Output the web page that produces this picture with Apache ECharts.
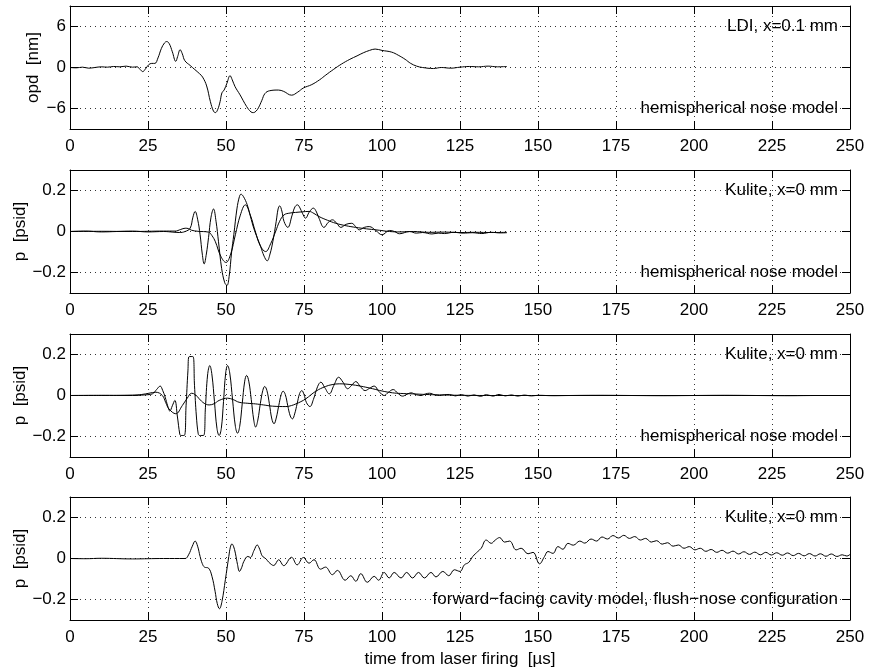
<!DOCTYPE html>
<html>
<head>
<meta charset="utf-8">
<script src="https://cdn.jsdelivr.net/npm/echarts@6/dist/echarts.min.js"></script>
<style>
html, body { margin: 0; padding: 0; background: #fff; }
#chart { width: 869px; height: 671px; }
</style>
</head>
<body>
<div id="chart"></div>
<script>
// ---- data: time [µs] vs value -------------------------------------------
const timeMin = 0, timeMax = 250, timeStep = 25;

const opdTicks = [-6, 0, 6];          // opd [nm]
const opdRange = [-9, 9];
const pTicks = [-0.2, 0, 0.2];        // p [psid]
const pRange = [-0.3, 0.3];

// LDI optical path difference, x = 0.1 mm
const ldiOpd = [[0,0.0],[2,-0.05],[4,0.05],[6,-0.1],[8,0.0],[10,0.1],[12,0.05],[14,0.15],[16,0.1],[18,0.2],[20,0.05],[21.5,0.1],[22.5,-0.3],[23.3,-0.6],[24.2,-0.2],[25.2,0.4],[26.2,0.6],[27.2,0.6],[28.2,1.4],[29.3,2.8],[30.3,3.6],[31,3.8],[31.8,3.5],[32.8,2.3],[33.9,0.9],[34.5,1.6],[35.3,2.6],[36,2.0],[36.8,1.0],[38.5,0.3],[40,-0.3],[41.5,-0.9],[42.5,-1.4],[43.8,-2.7],[45,-5.0],[46,-6.4],[46.6,-6.6],[47.3,-6.2],[48.1,-5.0],[48.7,-3.7],[49.4,-3.3],[50.3,-2.3],[51.3,-1.2],[52,-1.8],[52.9,-2.8],[54.5,-4.0],[56.6,-5.7],[58,-6.5],[58.8,-6.6],[59.6,-6.4],[60.4,-5.9],[61.5,-4.8],[62.5,-3.8],[64,-3.4],[66.8,-3.3],[68.5,-3.5],[71,-4.05],[73,-3.6],[74.8,-3.0],[77.5,-2.5],[80,-1.8],[82,-1.1],[84.4,-0.3],[87,0.5],[89.7,1.2],[92,1.7],[94,2.15],[96,2.5],[97.8,2.7],[100,2.5],[103.1,2.25],[105.2,1.8],[107.4,1.2],[109.2,0.6],[111.1,0.2],[113,0.0],[116.5,-0.15],[119,0.0],[122,-0.1],[125,0.05],[128,0.15],[131,0.1],[134,0.2],[137,0.1],[140,0.15]];

// Kulite, hemispherical nose: raw trace and its low-pass counterpart
const kuliteHemi1 = [[0,0],[5,0.002],[10,-0.002],[15,0],[20,0.002],[25,-0.002],[30,0],[33,-0.003],[35,-0.005],[36.9,0],[38.5,0.016],[39.4,0.07],[40.1,0.098],[40.9,0.06],[41.7,-0.016],[42.4,-0.11],[43.0,-0.158],[43.7,-0.11],[44.4,-0.03],[45.2,0.07],[46.0,0.11],[46.8,0.05],[47.6,-0.05],[48.6,-0.18],[49.6,-0.25],[50.3,-0.263],[51,-0.22],[51.8,-0.1],[52.5,-0.016],[53.5,0.11],[54.3,0.17],[54.8,0.182],[55.6,0.17],[56.8,0.13],[57.8,0.075],[58.9,0.016],[60,-0.03],[61.1,-0.073],[62.2,-0.12],[63.2,-0.143],[64.1,-0.11],[65.0,-0.05],[66.1,0.05],[66.7,0.11],[67.2,0.125],[67.9,0.1],[68.6,0.049],[69.8,0.02],[71.2,0.08],[72.1,0.12],[72.9,0.13],[73.7,0.115],[74.5,0.089],[75.5,0.065],[76.7,0.095],[78.0,0.114],[79,0.095],[79.8,0.065],[81.4,0.02],[82.8,0.045],[84.1,0.057],[85.5,0.04],[86.8,0.02],[88.5,0.035],[90.3,0.04],[91.5,0.025],[92.7,0.008],[94.3,0.02],[95.9,0.024],[98,0.005],[100,-0.016],[102.4,0.005],[104,0],[105.6,-0.011],[108.8,0],[111,-0.008],[113,-0.005],[116,-0.012],[118,-0.008],[120,-0.01],[123,-0.004],[126,-0.008],[129,-0.006],[132,-0.01],[135,-0.004],[138,-0.007],[140,-0.006]];
const kuliteHemi1Ref = [[0,0],[10,0.001],[20,0],[30,0.002],[33.7,0.002],[35.5,0.01],[36.9,0.016],[38,0.014],[39,0.006],[41,0.001],[44.4,-0.003],[45.5,-0.02],[46.6,-0.05],[48.3,-0.12],[50,-0.151],[51.5,-0.11],[53,-0.016],[54.6,0.08],[56.2,0.13],[57.8,0.08],[59.4,0],[61,-0.07],[62.7,-0.098],[64.3,-0.06],[65.9,0],[67.2,0.05],[68.6,0.081],[70.5,0.09],[72.3,0.093],[74.5,0.096],[76.6,0.098],[78.2,0.088],[79.8,0.073],[82.5,0.055],[85.2,0.04],[88.5,0.028],[91.6,0.02],[95,0.013],[98.1,0.008],[102.4,0],[106,-0.002],[110,0],[115,-0.004],[120,-0.003],[125,-0.005],[130,-0.004],[135,-0.005],[140,-0.004]];

const kuliteHemi2 = [[0,0],[10,0.001],[20,0],[24,0.003],[26.4,0.008],[27.8,0.03],[28.9,0.046],[29.7,0.025],[30.5,-0.008],[31.3,-0.05],[32.0,-0.076],[32.8,-0.05],[33.6,-0.024],[34.4,-0.1],[35.2,-0.19],[35.5,-0.195],[36.6,-0.195],[37.2,-0.05],[37.8,0.12],[38.2,0.19],[39.4,0.19],[39.9,0.05],[40.5,-0.1],[41.1,-0.187],[41.5,-0.195],[42.8,-0.195],[43.4,-0.06],[44.1,0.1],[44.8,0.146],[45.5,0.1],[46.3,-0.03],[47.1,-0.16],[47.8,-0.195],[48.5,-0.16],[49.2,-0.03],[49.9,0.11],[50.5,0.146],[51.2,0.11],[52.1,-0.02],[53.0,-0.15],[53.7,-0.184],[54.4,-0.15],[55.2,-0.04],[56.0,0.07],[56.6,0.098],[57.3,0.07],[58.1,-0.02],[58.9,-0.12],[59.5,-0.154],[60.2,-0.12],[61.0,-0.04],[61.8,0.025],[62.4,0.044],[63.1,0.025],[63.9,-0.04],[64.7,-0.115],[65.4,-0.138],[66.1,-0.11],[66.9,-0.05],[67.7,0.005],[68.3,0.021],[69,0.005],[69.8,-0.05],[70.6,-0.1],[71.3,-0.114],[72,-0.09],[72.8,-0.04],[73.6,0.01],[74.3,0.024],[75,0.005],[75.8,-0.035],[76.9,-0.054],[78,-0.02],[79.4,0.045],[80.4,0.065],[81.6,0.04],[83.1,0.008],[84.6,0.05],[86.1,0.089],[87.5,0.065],[89,0.033],[90.3,0.05],[91.6,0.068],[93,0.045],[94.6,0.024],[96,0.035],[97.5,0.046],[99,0.02],[100.7,0],[102,0.015],[103.6,0.029],[105,0.012],[106.6,-0.003],[108,0.006],[109.3,0.013],[111,0.004],[112.5,0],[114,0.008],[115.2,0.011],[117,0.003],[118.4,0],[120,0.004],[121.6,0.005],[123.5,-0.002],[125.5,0.004],[127.5,-0.003],[129.5,0.003],[131.5,-0.004],[133.5,0.004],[135.5,-0.003],[137.5,0.005],[139.5,-0.002],[141.5,0.003],[143.5,-0.003],[145.5,0.002],[148,-0.002],[150,0.001],[155,-0.001],[160,0],[170,0.001],[180,0],[190,-0.001],[200,0],[210,0.001],[220,0],[230,-0.001],[240,0],[250,0]];
const kuliteHemi2Ref = [[0,0],[10,0],[20,0.002],[23,0.005],[25.3,0.011],[27.5,0.016],[29.6,0],[30.7,-0.035],[31.7,-0.065],[33.9,-0.089],[36.0,-0.049],[37.5,-0.015],[39.0,0.011],[40.2,0.004],[41.4,-0.016],[43,-0.038],[44.6,-0.046],[46.2,-0.04],[47.8,-0.024],[50.5,-0.013],[52.3,-0.02],[54.2,-0.033],[57,-0.038],[59.5,-0.041],[62,-0.046],[64.9,-0.052],[69.2,-0.054],[71,-0.049],[72.4,-0.041],[74,-0.03],[75.6,-0.016],[78.8,0.021],[81.9,0.044],[84,0.053],[86.3,0.057],[90.6,0.052],[94,0.043],[97,0.033],[100,0.022],[103.4,0.013],[106,0.01],[109.8,0.008],[114,0.005],[118.4,0.003],[125,0.001],[135,0],[150,0],[175,0],[200,0],[225,0],[250,0]];

// Kulite, forward-facing cavity, flush nose
const kuliteCavity = [[0,0],[5,-0.001],[10,0.001],[20,-0.002],[30,0],[36.9,0],[38,0.018],[39.2,0.06],[40.1,0.085],[40.9,0.06],[41.7,0.01],[42.4,-0.025],[43.1,-0.042],[44.4,-0.047],[45.5,-0.087],[46.5,-0.16],[47.2,-0.22],[47.9,-0.245],[48.7,-0.21],[49.8,-0.103],[50.9,0.01],[51.4,0.055],[51.9,0.071],[52.4,0.06],[53,0.026],[53.7,-0.03],[54.3,-0.063],[55,-0.045],[55.7,-0.015],[57,0.01],[57.8,0.005],[59,0.04],[60,0.066],[60.8,0.045],[61.6,0.013],[62.9,-0.003],[63.7,-0.018],[65.3,-0.034],[66.9,-0.006],[68.5,-0.035],[71.0,0.006],[72.8,-0.031],[74.8,0.005],[76.6,-0.023],[78.2,-0.006],[80.3,-0.052],[81.9,-0.042],[84.1,-0.079],[85.7,-0.058],[88.2,-0.106],[90.0,-0.084],[91.6,-0.111],[93.2,-0.074],[95.3,-0.116],[97.5,-0.087],[98.9,-0.106],[100.7,-0.068],[102.3,-0.095],[103.9,-0.068],[106.1,-0.095],[107.9,-0.068],[109.8,-0.095],[111.7,-0.068],[113.6,-0.095],[115.7,-0.068],[117.3,-0.09],[119.5,-0.063],[121.4,-0.084],[123.2,-0.055],[125.0,-0.063],[126.4,-0.031],[127.8,-0.019],[129.1,0.01],[130.7,0.034],[131.8,0.05],[133.4,0.09],[135.0,0.074],[136.3,0.09],[137.7,0.102],[139.3,0.08],[140.9,0.085],[143.0,0.042],[144.6,0.05],[146.8,0.023],[148.4,0.03],[150.5,-0.026],[152.1,0.01],[153.2,0.034],[154.8,0.025],[156.4,0.058],[158.0,0.045],[159.6,0.074],[161.3,0.065],[163.4,0.085],[165,0.075],[167,0.095],[168.8,0.085],[170.5,0.105],[172.3,0.095],[174,0.112],[175.8,0.1],[177.5,0.113],[179.3,0.098],[181,0.107],[182.8,0.09],[184.5,0.098],[186.3,0.08],[188,0.087],[189.8,0.07],[191.5,0.077],[193.3,0.06],[195,0.066],[196.8,0.05],[198.5,0.058],[200.3,0.042],[202,0.05],[203.8,0.035],[205.5,0.044],[207.3,0.03],[209,0.04],[210.8,0.026],[212.5,0.036],[214.3,0.022],[216,0.033],[217.8,0.02],[219.5,0.031],[221.3,0.018],[223,0.03],[224.8,0.017],[226.5,0.028],[228.3,0.016],[230,0.027],[231.8,0.014],[233.5,0.025],[235.3,0.013],[237,0.024],[238.8,0.012],[240.5,0.023],[242.3,0.011],[244,0.022],[245.8,0.01],[247.5,0.018],[249,0.012],[250,0.02]];

// ---- panel texts ------------------------------------------------------------
const yNames = ['opd  [nm]', 'p  [psid]', 'p  [psid]', 'p  [psid]'];
const sensorNotes = ['LDI, x=0.1 mm', 'Kulite, x=0 mm', 'Kulite, x=0 mm', 'Kulite, x=0 mm'];
const modelNotes = ['hemispherical nose model', 'hemispherical nose model', 'hemispherical nose model',
                    'forward\u2212facing cavity model, flush\u2212nose configuration'];
const xName = 'time from laser firing  [\u00b5s]';

// ---- layout -----------------------------------------------------------------
const FONT = '"Liberation Sans", Arial, Helvetica, sans-serif';
const FS = 17;
const gridLeft = 70, gridWidth = 780, gridHeight = 123;
const gridTops = [6, 170, 334, 497];
const yNameGaps = [28, 41, 41, 41];   // y titles sit just outside the widest tick label

const panels = [
  { ticks: opdTicks, range: opdRange, series: [ldiOpd] },
  { ticks: pTicks, range: pRange, series: [kuliteHemi1, kuliteHemi1Ref] },
  { ticks: pTicks, range: pRange, series: [kuliteHemi2, kuliteHemi2Ref] },
  { ticks: pTicks, range: pRange, series: [kuliteCavity] }
];

const fmt = v => String(v).replace('-', '\u2212');
const dotted = { show: true, lineStyle: { color: '#333', width: 1, type: [1, 4] } };
const blackLine = { show: true, onZero: false, lineStyle: { color: '#000', width: 1 } };
const inTick = { show: true, inside: true, length: 8, lineStyle: { color: '#000', width: 1 } };

const grid = [], xAxis = [], yAxis = [], series = [];
panels.forEach((p, i) => {
  grid.push({ left: gridLeft, top: gridTops[i], width: gridWidth, height: gridHeight,
              show: false, containLabel: false, outerBoundsMode: 'none' });
  // bottom and top x axes
  xAxis.push({
    type: 'value', gridIndex: i, min: timeMin, max: timeMax, interval: timeStep, position: 'bottom',
    axisLine: blackLine, axisTick: inTick, splitLine: dotted,
    axisLabel: { show: true, margin: 9, color: '#000', fontSize: FS, fontFamily: FONT },
    name: i === 3 ? xName : '', nameLocation: 'middle', nameGap: 31, nameMoveOverlap: false,
    nameTextStyle: { color: '#000', fontSize: FS, fontFamily: FONT }
  });
  xAxis.push({
    type: 'value', gridIndex: i, min: timeMin, max: timeMax, interval: timeStep, position: 'top',
    axisLine: blackLine, axisTick: inTick, splitLine: { show: false }, axisLabel: { show: false }
  });
  // left and right y axes
  yAxis.push({
    type: 'value', gridIndex: i, min: p.range[0], max: p.range[1], position: 'left',
    axisLine: blackLine,
    axisTick: Object.assign({}, inTick, { customValues: p.ticks }),
    axisLabel: { show: true, customValues: p.ticks, margin: 4, color: '#000', fontSize: FS,
                 fontFamily: FONT, formatter: fmt },
    splitLine: dotted,
    name: yNames[i], nameLocation: 'middle', nameGap: yNameGaps[i], nameMoveOverlap: false,
    nameTextStyle: { color: '#000', fontSize: FS, fontFamily: FONT }
  });
  yAxis.push({
    type: 'value', gridIndex: i, min: p.range[0], max: p.range[1], position: 'right',
    axisLine: blackLine,
    axisTick: Object.assign({}, inTick, { customValues: p.ticks }),
    axisLabel: { show: false }, splitLine: { show: false }
  });
  p.series.forEach(d => {
    series.push({
      type: 'line', xAxisIndex: 2 * i, yAxisIndex: 2 * i, data: d,
      showSymbol: false, smooth: 0.4, animation: false, silent: true,
      lineStyle: { color: '#000', width: 1 }
    });
  });
});

const chart = echarts.init(document.getElementById('chart'), null, { renderer: 'canvas' });
chart.setOption({ backgroundColor: '#fff', animation: false, grid, xAxis, yAxis, series });

// sensor / model notes sit on the upper and lower tick lines, right-aligned
const graphic = [];
panels.forEach((p, i) => {
  const finder = { xAxisIndex: 2 * i, yAxisIndex: 2 * i };
  const top = chart.convertToPixel(finder, [timeMax, p.ticks[2]]);
  const bot = chart.convertToPixel(finder, [timeMax, p.ticks[0]]);
  [[top, sensorNotes[i]], [bot, modelNotes[i]]].forEach(([pt, txt]) => {
    graphic.push({
      type: 'text', x: pt[0] - 12, y: pt[1], silent: true,
      style: { text: txt, align: 'right', verticalAlign: 'middle', fill: '#000',
               fontSize: FS, fontFamily: FONT }
    });
  });
});
chart.setOption({ graphic });
</script>
</body>
</html>
